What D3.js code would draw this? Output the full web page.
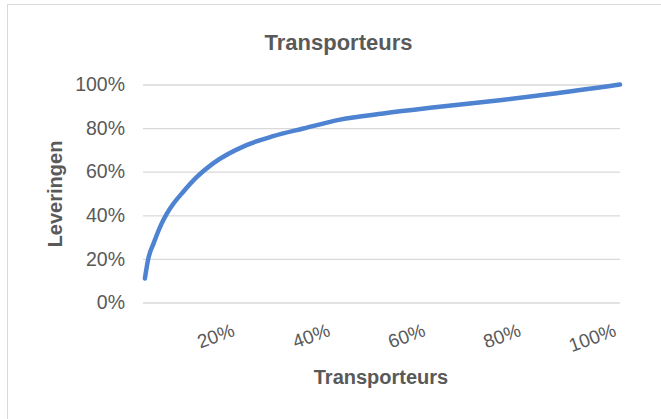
<!DOCTYPE html>
<html>
<head>
<meta charset="utf-8">
<script src="https://cdn.jsdelivr.net/npm/d3@7"></script>
<style>
  body { margin: 0; background: #fff; }
  svg { font-family: "Liberation Sans", Arial, sans-serif; }
</style>
</head>
<body>
<div id="chart"></div>
<script>
// share of transporters (x) vs cumulative share of deliveries (y)
const shareTransporters = [0.004, 0.011, 0.022, 0.039, 0.050, 0.064, 0.084, 0.113, 0.147, 0.217, 0.273, 0.336, 0.413, 0.504, 0.602, 0.748, 0.85, 1.0];
const shareDeliveries   = [0.11, 0.20, 0.27, 0.362, 0.408, 0.454, 0.507, 0.576, 0.638, 0.722, 0.763, 0.798, 0.839, 0.867, 0.893, 0.928, 0.955, 1.0];
const yTicks = [0, 0.2, 0.4, 0.6, 0.8, 1.0];
const xTicks = [0.2, 0.4, 0.6, 0.8, 1.0];

const W = 661, H = 419;
const margin = {top: 84.5, right: 41, bottom: 116.5, left: 143};
const width = W - margin.left - margin.right,
      height = H - margin.top - margin.bottom;

const svg = d3.select("#chart").append("svg")
    .attr("width", W).attr("height", H);

// chart border
svg.append("rect")
    .attr("x", 7.5).attr("y", 4.5)
    .attr("width", 700).attr("height", 500)
    .attr("fill", "#fff").attr("stroke", "#d9d9d9");

const g = svg.append("g")
    .attr("transform", "translate(" + margin.left + "," + margin.top + ")");

const x = d3.scaleLinear().domain([0, 1]).range([0, width]);
const y = d3.scaleLinear().domain([0, 1]).range([height, 0]);

// Y axis with gridlines
const yAxis = g.append("g")
    .call(d3.axisLeft(y).tickValues(yTicks).tickFormat(d3.format(".0%")).tickSize(-width).tickPadding(18));
yAxis.select(".domain").remove();
yAxis.selectAll("line").attr("stroke", "#d9d9d9").attr("stroke-width", 1.3);
yAxis.selectAll("text").attr("fill", "#595959").style("font-size", "19.5px");

// X axis: rotated labels
const xAxis = g.append("g")
    .attr("transform", "translate(0," + height + ")")
    .call(d3.axisBottom(x).tickValues(xTicks).tickFormat(d3.format(".0%")).tickSize(0));
xAxis.select(".domain").remove();
xAxis.selectAll("text")
    .attr("fill", "#595959").style("font-size", "19px")
    .attr("text-anchor", "end")
    .attr("dy", 0).attr("y", 0)
    .attr("transform", "translate(-3,33) rotate(-20)");

// the line
const line = d3.line()
    .x(function(d, i) { return x(shareTransporters[i]); })
    .y(function(d) { return y(d); })
    .curve(d3.curveMonotoneX);

g.append("path")
    .datum(shareDeliveries)
    .attr("fill", "none")
    .attr("stroke", "#4e83d2")
    .attr("stroke-width", 4.5)
    .attr("stroke-linecap", "round")
    .attr("d", line);

// titles
svg.append("text")
    .attr("x", 338.5).attr("y", 50)
    .attr("text-anchor", "middle")
    .attr("fill", "#595959")
    .style("font-size", "22px").style("font-weight", "bold")
    .text("Transporteurs");

svg.append("text")
    .attr("x", 381).attr("y", 384)
    .attr("text-anchor", "middle")
    .attr("fill", "#595959")
    .style("font-size", "20px").style("font-weight", "bold")
    .text("Transporteurs");

svg.append("text")
    .attr("transform", "translate(62,194) rotate(-90)")
    .attr("text-anchor", "middle")
    .attr("fill", "#595959")
    .style("font-size", "20px").style("font-weight", "bold")
    .text("Leveringen");
</script>
</body>
</html>
